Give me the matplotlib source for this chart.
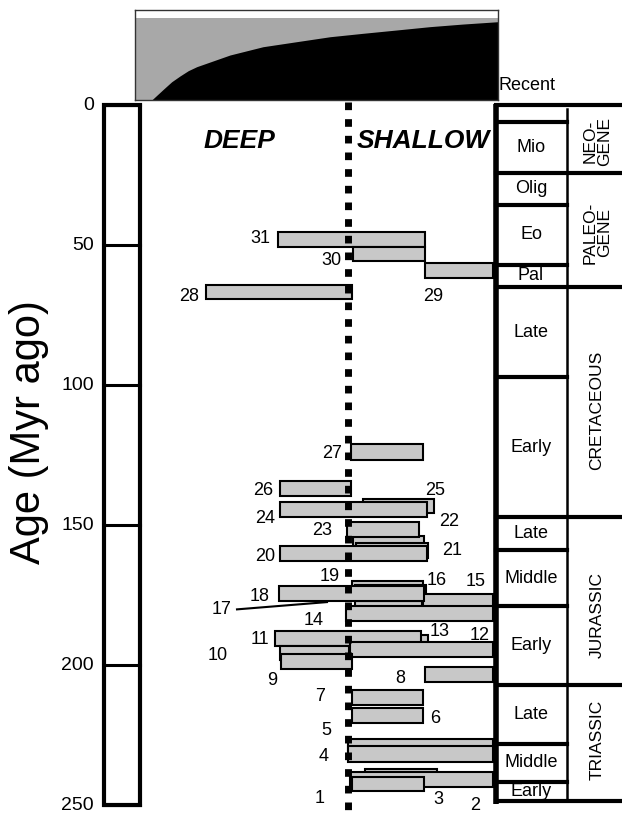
import numpy as np
import matplotlib.pyplot as plt

plt.rcParams['font.family'] = ['Liberation Sans', 'DejaVu Sans']

# taxa bars, listed in drawing order (bottom-most first)
bar_num = [31, 30, 29, 28, 27, 26, 25, 24, 22, 23, 21, 20, 19, 16, 17, 15, 18, 14,
           13, 11, 12, 10, 9, 8, 7, 6, 5, 4, 3, 2, 1]
bar_top = [45.2, 50.6, 56.3, 64.3, 121.2, 134.2, 140.6, 141.7, 153.9, 149.0, 156.4, 157.4,
           169.9, 171.4, 177.0, 174.6, 171.7, 178.9, 189.3, 187.9, 191.7, 193.2, 196.2,
           200.6, 208.9, 215.3, 226.5, 228.9, 237.1, 238.1, 239.9]
bar_bot = [50.6, 55.7, 61.7, 69.3, 126.8, 139.5, 145.8, 147.0, 159.3, 154.2, 161.8, 162.8,
           175.2, 176.8, 182.0, 180.0, 177.0, 184.2, 194.6, 193.2, 197.0, 198.2, 201.4,
           206.0, 214.3, 220.6, 231.8, 234.5, 242.5, 243.5, 245.0]
# habitat extent, deep (left) to shallow (right)
bar_left = [278, 352.7, 425, 206, 351, 280, 362.7, 280, 353, 347.3, 356, 280,
            351.7, 355, 355, 422.7, 279.3, 346, 350, 275, 350, 280, 281,
            425, 351.7, 351.7, 348.3, 348.3, 365, 350, 351.7]
bar_right = [425, 425, 493, 351.7, 423.3, 350.7, 434, 426.7, 424, 419, 428.3, 426.7,
             422.7, 426, 421.7, 493.3, 424, 492.7, 428.3, 420.7, 492.7, 349.3, 351.7,
             492.7, 423.3, 423.3, 493.3, 493.3, 437.3, 493.3, 424]

lab_num = [31, 30, 29, 28, 27, 26, 25, 24, 23, 22, 21, 20, 19, 18, 17, 16, 15, 14,
           13, 12, 11, 10, 9, 8, 7, 6, 5, 4, 3, 2, 1]
lab_x = [260, 331.7, 433, 189, 331.7, 263, 435, 265, 321.7, 449, 451.7, 265, 330, 260,
         221.7, 436.7, 476, 313.3, 440, 479.3, 260, 218, 271.7, 400, 320, 435, 326.7,
         323.3, 438.3, 475, 320]
lab_age = [47.5, 55.4, 68.2, 68.2, 124.4, 137.5, 137.8, 147.5, 152.1, 148.9, 159.2, 161.1,
           168.2, 175.4, 180.1, 169.9, 170.2, 183.9, 188.1, 189.6, 190.8, 196.4, 205.4,
           204.8, 211.1, 219.0, 223.2, 232.5, 248.0, 250.0, 247.6]

age_ticks = [0, 50, 100, 150, 200, 250]

epoch_bounds = [0, 6.2, 24.2, 35.7, 57.1, 64.9, 97.3, 147, 158.9, 178.9, 207.1, 228, 241.7, 248.5]
epoch_names = ['', 'Mio', 'Olig', 'Eo', 'Pal', 'Late', 'Early', 'Late', 'Middle', 'Early',
               'Late', 'Middle', 'Early']
period_bounds = [0, 24.2, 64.9, 147, 207.1, 248.5]
period_names = ['NEO-\nGENE', 'PALEO-\nGENE', 'CRETACEOUS', 'JURASSIC', 'TRIASSIC']
period_lab_age = [13.1, 45.7, 109, 182, 226.8]

# cumulative curve in the top panel
curve_x = [151.7, 163.3, 171.7, 180, 188.3, 196.7, 230, 263, 296.7, 330, 363, 396.7, 430, 463, 498]
curve_y = [0, 0.119, 0.203, 0.267, 0.326, 0.37, 0.5, 0.592, 0.648, 0.703, 0.741, 0.778,
           0.815, 0.844, 0.87]

fig = plt.figure(figsize=(6.22, 8.18), dpi=100)
ax = fig.add_axes([0, 0, 1, 1])
ax.set_xlim(0, 622)
ax.set_ylim(254.6, -37.5)
ax.axis('off')

# left age column
ax.add_patch(plt.Rectangle((104, 0), 36, 250, facecolor='white', edgecolor='black', lw=3, zorder=2))
for a in age_ticks:
    ax.plot([104, 140], [a, a], color='black', lw=2.2, zorder=3)
    ax.text(94, a, str(a), ha='right', va='center', fontsize=14)
ax.text(29, 116.8, 'Age (Myr ago)', rotation=90, ha='center', va='center', fontsize=30)

# bars
for n, t, b, l, r in zip(bar_num, bar_top, bar_bot, bar_left, bar_right):
    ax.add_patch(plt.Rectangle((l, t), r - l, b - t, facecolor='#c8c8c8',
                               edgecolor='black', lw=1.5, zorder=4))
for n, x, a in zip(lab_num, lab_x, lab_age):
    ax.text(x, a, str(n), ha='center', va='center', fontsize=13, zorder=6)
ax.plot([237, 327], [180.1, 177.5], color='black', lw=1.5, zorder=6)

# deep / shallow divide
ax.plot([348, 348], [-1, 255], color='black', lw=5, linestyle=(0, (1.1, 1.3)),
        dash_capstyle='butt', zorder=5)
ax.text(239, 12.9, 'DEEP', ha='center', va='center', fontsize=19, fontweight='bold', style='italic')
ax.text(423, 12.9, 'SHALLOW', ha='center', va='center', fontsize=19, fontweight='bold', style='italic')

# time scale
ax.plot([496, 496], [-0.5, 249.5], color='black', lw=4, zorder=7, solid_capstyle='butt')
ax.plot([567, 567], [1.5, 248.5], color='black', lw=1.8, zorder=7)
for i, a in enumerate(epoch_bounds):
    if a in period_bounds:
        ax.plot([496, 622], [a, a], color='black', lw=3, zorder=7)
    elif i == 1:
        ax.plot([500, 567], [a, a], color='black', lw=3, zorder=7)
    else:
        ax.plot([496, 567], [a, a], color='black', lw=3, zorder=7)
for i, name in enumerate(epoch_names):
    mid = (epoch_bounds[i] + epoch_bounds[i + 1]) / 2
    ax.text(531, mid, name, ha='center', va='center', fontsize=13)
for name, a in zip(period_names, period_lab_age):
    ax.text(597, a, name, ha='center', va='center', rotation=90, fontsize=12.5,
            linespacing=0.95, multialignment='center')
ax.text(498, -6.8, 'Recent', ha='left', va='center', fontsize=13)

# top panel
top = fig.add_axes([135 / 622, (818 - 100) / 818, 363 / 622, 90 / 818])
top.set_xlim(135, 498)
top.set_ylim(0, 1)
top.fill_between([135, 498], 0, 0.908, color='#a8a8a8', lw=0)
top.fill_between(curve_x, 0, curve_y, color='black', lw=0)
top.set_xticks([])
top.set_yticks([])
for s in top.spines.values():
    s.set_linewidth(1)
    s.set_color('#333333')

fig.savefig('out.png', dpi=100)
